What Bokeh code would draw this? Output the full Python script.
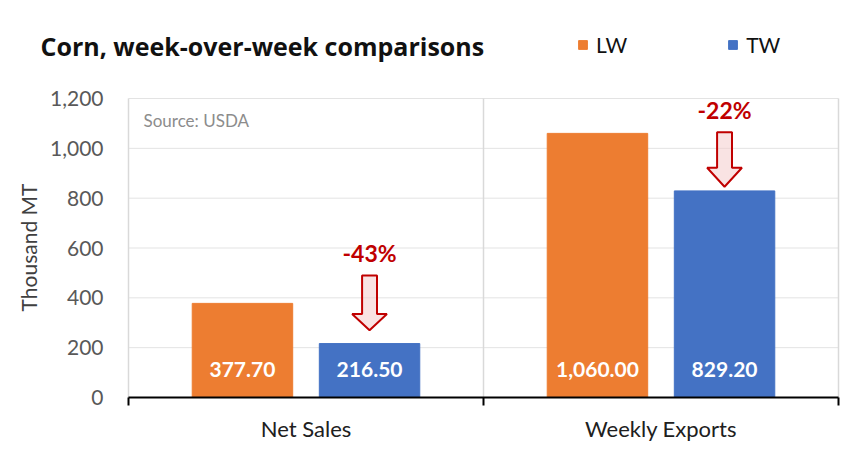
import math
from bokeh.plotting import figure
from bokeh.models import ColumnDataSource, Label, Legend, LegendItem, Range1d
from bokeh.core.properties import value
from bokeh.embed import file_html
from bokeh.resources import INLINE

# ---- data ----
categories = ["Net Sales", "Weekly Exports"]
series_names = ["LW", "TW"]
lw_values = [377.70, 1060.00]
tw_values = [216.50, 829.20]
lw_labels = ["377.70", "1,060.00"]
tw_labels = ["216.50", "829.20"]
pct_labels = ["-43%", "-22%"]
arrow_top = [490, 1065]
arrow_head = [335, 922]
arrow_tip = [270, 846]
y_ticks = [0, 200, 400, 600, 800, 1000, 1200]
y_labels = ["0", "200", "400", "600", "800", "1,000", "1,200"]

ORANGE = "#ED7D31"
BLUE = "#4472C4"
RED = "#C00000"
FONT = "Lato"

# ---- layout (pixels) ----
W = 850
H = 463
PX_LEFT, PX_RIGHT = 128, 838      # value-area left / right edge
PX_TOP, PX_ZERO = 98, 397         # y of top tick and of zero
n = len(categories)
ux = (PX_RIGHT - PX_LEFT) / n
uy = (PX_ZERO - PX_TOP) / y_ticks[-1]
TICK_LEN = 8 / uy

p = figure(width=W, height=H, output_backend="svg", toolbar_location=None,
           x_axis_location=None, y_axis_location=None,
           x_range=Range1d(-PX_LEFT / ux, (W - PX_LEFT) / ux),
           y_range=Range1d(-(H - PX_ZERO) / uy, PX_ZERO / uy),
           min_border_left=0, min_border_right=0, min_border_top=0,
           min_border_bottom=0)
p.outline_line_color = None
p.background_fill_color = "white"
p.grid.visible = False

centers = [i + 0.5 for i in range(n)]
bounds = list(range(n + 1))
dodge = 0.179
bar_w = 0.283
lw_x = [c - dodge for c in centers]
tw_x = [c + dodge for c in centers]

# gridlines of the value area
gy = y_ticks[1:]
p.segment(x0=[0] * len(gy), y0=gy, x1=[n] * len(gy), y1=gy,
          line_color="#E3E3E3", line_width=1)
p.segment(x0=bounds, y0=[0] * len(bounds), x1=bounds,
          y1=[y_ticks[-1]] * len(bounds), line_color="#D9D9D9", line_width=1.5)

lw_src = ColumnDataSource(dict(x=lw_x, top=lw_values, lab=lw_labels))
tw_src = ColumnDataSource(dict(x=tw_x, top=tw_values, lab=tw_labels))
r_lw = p.vbar(x="x", top="top", width=bar_w, color=ORANGE, source=lw_src)
r_tw = p.vbar(x="x", top="top", width=bar_w, color=BLUE, source=tw_src)

for src in (lw_src, tw_src):
    p.text(x="x", y=0, text="lab", source=src, text_color="white",
           text_font=value(FONT), text_font_style="bold", text_font_size="21px",
           text_align="center", text_baseline="middle", y_offset=-28)

# category axis: line, boundary ticks, labels
p.segment(x0=[0], y0=[0], x1=[n], y1=[0], line_color="black", line_width=2)
p.segment(x0=bounds, y0=[0] * len(bounds), x1=bounds,
          y1=[-TICK_LEN] * len(bounds), line_color="black", line_width=2)
p.text(x=centers, y=[0] * n, text=categories, text_color="#202020",
       text_font=value(FONT), text_font_size="22px", text_align="center",
       text_baseline="middle", y_offset=31)

# value-axis tick labels, drawn at the tick values
p.text(x=[0] * len(y_ticks), y=y_ticks, text=y_labels, text_color="#595959",
       text_font=value(FONT), text_font_size="21px", text_align="right",
       text_baseline="middle", x_offset=-25)

# arrows
hw_shaft = 0.021
hw_head = 0.049
xs, ys = [], []
for i, c in enumerate(tw_x):
    xs.append([c - hw_shaft, c + hw_shaft, c + hw_shaft, c + hw_head, c,
               c - hw_head, c - hw_shaft])
    ys.append([arrow_top[i], arrow_top[i], arrow_head[i], arrow_head[i],
               arrow_tip[i], arrow_head[i], arrow_head[i]])
p.patches(xs=xs, ys=ys, fill_color="#F4CCCC", fill_alpha=0.55,
          line_color=RED, line_width=2)
p.text(x=tw_x, y=arrow_top, text=pct_labels, text_color=RED,
       text_font=value(FONT), text_font_style="bold", text_font_size="23px",
       text_align="center", text_baseline="middle", y_offset=-22)

# texts
def sy(page_y):
    return H - page_y

p.add_layout(Label(x=28, y=sy(247), x_units="screen", y_units="screen",
                   text="Thousand MT", angle=math.pi / 2, text_font=FONT,
                   text_font_size="21px", text_color="#404040",
                   text_align="center", text_baseline="middle"))
p.add_layout(Label(x=40, y=sy(45), x_units="screen", y_units="screen",
                   text="Corn, week-over-week comparisons",
                   text_font="Open Sans", text_font_style="bold",
                   text_font_size="25px", text_color="#111111",
                   text_baseline="middle"))
p.add_layout(Label(x=143, y=sy(120), x_units="screen", y_units="screen",
                   text="Source: USDA", text_font=FONT, text_font_size="17px",
                   text_color="#8C8C8C", text_baseline="middle"))

legend = Legend(items=[LegendItem(label=series_names[0], renderers=[r_lw]),
                       LegendItem(label=series_names[1], renderers=[r_tw])],
                orientation="horizontal", location=(577, sy(45) - 12),
                padding=0, margin=0, spacing=100, label_standoff=8,
                glyph_width=11, glyph_height=11, border_line_color=None,
                background_fill_alpha=0, label_text_font=FONT,
                label_text_font_size="21px", label_text_color="#111111")
p.add_layout(legend, "center")

with open("out.html", "w") as f:
    f.write(file_html(p, INLINE))
